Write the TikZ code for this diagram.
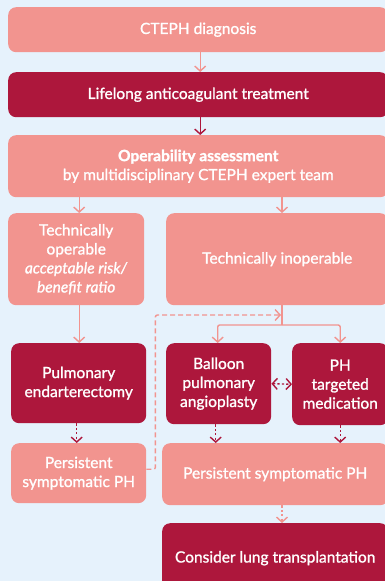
\documentclass[tikz,border=0pt]{standalone}
\usepackage{fontspec}
\setmainfont{Lato}[UprightFeatures={FakeBold=1.2},ItalicFeatures={FakeBold=1.2},BoldFeatures={FakeBold=1.6}]
\usetikzlibrary{arrows.meta}
\definecolor{bgc}{HTML}{E6F2FC}
\definecolor{lightc}{HTML}{F2948F}
\definecolor{darkc}{HTML}{AD173C}
\tikzset{
  box/.style={rounded corners=8pt, anchor=north west, text=white, align=center,
    font=\fontsize{15.5}{19}\selectfont, inner sep=0pt},
  lbox/.style={box, fill=lightc},
  dbox/.style={box, fill=darkc},
  tip/.style={-{Straight Barb[length=5pt,width=11pt,line width=1.4pt]}},
  larr/.style={tip, draw=lightc, line width=1.4pt},
  darr/.style={tip, draw=darkc, line width=1.4pt},
  dots/.style={dash pattern=on 2.2pt off 2.2pt},
  dashes/.style={dash pattern=on 5pt off 3pt},
}
\begin{document}
\begin{tikzpicture}[x=1pt,y=-1pt]
\fill[bgc] (0,0) rectangle (385,581);
\useasboundingbox (0,0) rectangle (385,581);
\clip (0,0) rectangle (385,581);
\node[lbox, minimum width=380pt, minimum height=45pt] (diag) at (8,7) {CTEPH diagnosis};
\node[dbox, minimum width=380pt, minimum height=45pt] (anti) at (8,72) {Lifelong anticoagulant treatment};
\node[lbox, minimum width=380pt, minimum height=62pt] (ops) at (8,135) {\textbf{Operability assessment}\\by multidisciplinary CTEPH expert team};
\node[lbox, minimum width=136pt, minimum height=92pt] (oper) at (8,213) {Technically\\operable\\\textit{acceptable risk/}\\\textit{benefit ratio}};
\node[lbox, minimum width=222pt, minimum height=92pt] (inop) at (166,213) {Technically inoperable};
\node[dbox, minimum width=135pt, minimum height=80pt] (pea) at (11,343) {Pulmonary\\endarterectomy};
\node[dbox, minimum width=105pt, minimum height=81pt] (bpa) at (166,343) {Balloon\\pulmonary\\angioplasty};
\node[dbox, minimum width=96pt, minimum height=82pt] (med) at (292,343) {PH\\targeted\\medication};
\node[lbox, minimum width=135pt, minimum height=60pt] (pers1) at (11,443) {Persistent\\symptomatic PH};
\node[lbox, minimum width=226pt, minimum height=62pt] (pers2) at (162,443) {Persistent symptomatic PH};
\node[dbox, minimum width=226pt, minimum height=70pt] (lung) at (162,523) {Consider lung transplantation};
\coordinate (split) at (282,325);
\coordinate (dashend) at (281,315);
% connectors
\draw[larr] ([xshift=2pt]diag.south) -- ([xshift=2pt]anti.north);
\draw[darr] ([xshift=2pt]anti.south) -- ([xshift=2pt]ops.north);
\draw[larr] ([xshift=3pt]oper.north |- ops.south) -- ([xshift=3pt]oper.north);
\draw[larr] (split |- ops.south) -- (split |- inop.north);
\draw[larr] ([xshift=3pt]oper.south) -- ([xshift=3pt]oper.south |- pea.north);
\draw[draw=lightc, line width=1.4pt] (split |- inop.south) -- (split);
\draw[larr, rounded corners=2pt] (split) -| ([xshift=-1pt]bpa.north);
\draw[larr, rounded corners=2pt] (split) -| (med.north);
\draw[darr, dots] ([xshift=-2pt]pea.south) -- ([xshift=-2pt]pers1.north);
\draw[darr, dots] ([xshift=-3pt]bpa.south) -- ([xshift=-3pt]bpa.south |- pers2.north);
\draw[darr, dots] (med.south) -- (med.south |- pers2.north);
\draw[darr, dots, {Straight Barb[length=5pt,width=11pt,line width=1.4pt]}-{Straight Barb[length=5pt,width=11pt,line width=1.4pt]}] (bpa.east) -- (med.west);
\draw[larr, dots] (split |- pers2.south) -- (split |- lung.north);
\draw[larr, dashes, rounded corners=2pt] ([yshift=4pt]pers1.east) -- ++(9,0) |- (dashend);
\end{tikzpicture}
\end{document}
